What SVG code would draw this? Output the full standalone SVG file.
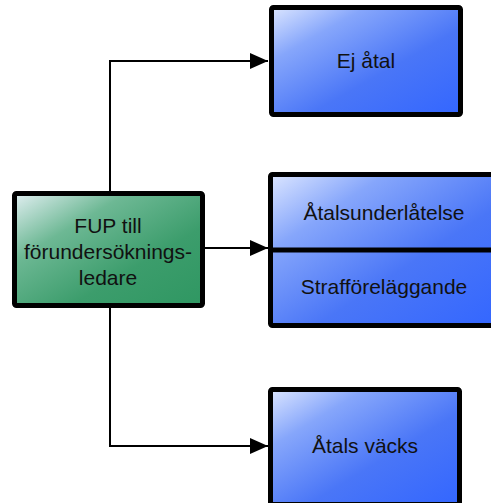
<svg xmlns="http://www.w3.org/2000/svg" width="491" height="503" viewBox="0 0 491 503">
<defs>
<linearGradient id="gb" x1="0" y1="0" x2="1" y2="1">
<stop offset="0" stop-color="#dce6ff"/>
<stop offset="0.25" stop-color="#86a6fb"/>
<stop offset="0.6" stop-color="#4a76f7"/>
<stop offset="1" stop-color="#3366ff"/>
</linearGradient>
<linearGradient id="gg" x1="0" y1="0" x2="1" y2="1">
<stop offset="0" stop-color="#e2eff2"/>
<stop offset="0.3" stop-color="#6db894"/>
<stop offset="0.65" stop-color="#3c9d6c"/>
<stop offset="1" stop-color="#2f9762"/>
</linearGradient>
<marker id="ah" markerWidth="18" markerHeight="16" refX="18" refY="8" orient="auto" markerUnits="userSpaceOnUse">
<path d="M0,0 L18,8 L0,16 Z" fill="#000"/>
</marker>
<style>
.box{stroke:#000;stroke-width:5;}
.t{font-family:"Liberation Sans",Arial,sans-serif;font-size:21px;fill:#111;text-anchor:middle;}
.c{fill:none;stroke:#000;stroke-width:2;}
</style>
</defs>
<g id="connectors">
<path class="c" d="M110,191 V61 H268" marker-end="url(#ah)"/>
<path class="c" d="M205,248 H268" marker-end="url(#ah)"/>
<path class="c" d="M110,308 V446 H268" marker-end="url(#ah)"/>
</g>
<g id="fup">
<rect class="box" x="14.5" y="193.5" width="188" height="112" rx="2" fill="url(#gg)"/>
<text class="t" x="108" y="233">FUP till</text>
<text class="t" x="108" y="259">förundersöknings-</text>
<text class="t" x="108" y="285">ledare</text>
</g>
<g id="ej-atal">
<rect class="box" x="271.5" y="7.5" width="189" height="107" rx="2" fill="url(#gb)"/>
<text class="t" x="366" y="68">Ej åtal</text>
</g>
<g id="mellan">
<rect class="box" x="270.5" y="174.5" width="230" height="151" rx="2" fill="url(#gb)"/>
<line x1="270" y1="250" x2="495" y2="250" stroke="#000" stroke-width="5"/>
</g>
<g id="atalsunderlatelse">
<text class="t" x="384" y="220">Åtalsunderlåtelse</text>
</g>
<g id="strafforelaggande">
<text class="t" x="384" y="294">Strafföreläggande</text>
</g>
<g id="atal-vacks">
<rect class="box" x="270.5" y="389.5" width="189" height="115" rx="2" fill="url(#gb)"/>
<text class="t" x="365" y="453">Åtals väcks</text>
</g>
</svg>
